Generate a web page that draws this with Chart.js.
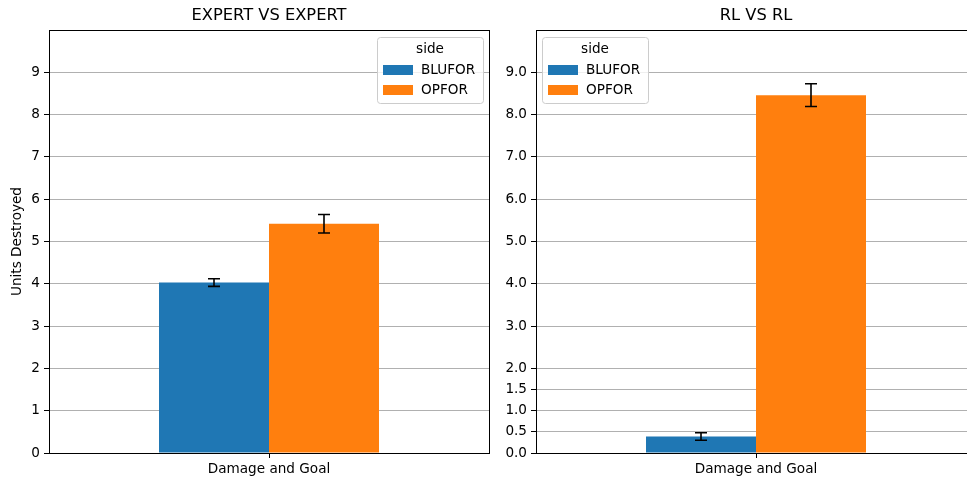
<!DOCTYPE html>
<html>
<head>
<meta charset="utf-8">
<script src="https://cdn.jsdelivr.net/npm/chart.js@4.4.1/dist/chart.umd.min.js"></script>
<style>
html,body{margin:0;padding:0;background:#fff;overflow:hidden;width:967px;height:479px;}
#wrap{position:relative;width:967px;height:479px;overflow:hidden;}
#c1{position:absolute;left:0;top:0;}
#c2{position:absolute;left:500px;top:0;}
</style>
</head>
<body>
<div id="wrap">
<canvas id="c1" width="500" height="479" style="width:500px;height:479px"></canvas>
<canvas id="c2" width="490" height="479" style="width:490px;height:479px"></canvas>
</div>
<script>
// ---- data ----
const categories = ['Damage and Goal'];
const seriesNames = ['BLUFOR', 'OPFOR'];
const legendTitle = 'side';
const panelTitles = ['EXPERT VS EXPERT', 'RL VS RL'];
const yAxisTitle = 'Units Destroyed';

const expertBlufor = [4.03];
const expertOpfor = [5.42];
const expertBluforErr = [0.09];
const expertOpforErr = [0.22];

const rlBlufor = [0.39];
const rlOpfor = [8.46];
const rlBluforErr = [0.09];
const rlOpforErr = [0.27];

const leftTicks = [0, 1, 2, 3, 4, 5, 6, 7, 8, 9];
const rightTicks = [0, 0.5, 1, 1.5, 2, 3, 4, 5, 6, 7, 8, 9];
const yMin = 0, yMax = 10;

const colors = ['#1f77b4', '#ff7f0e'];
const FONT = "'DejaVu Sans', sans-serif";
Chart.defaults.color = '#000';
Chart.defaults.font.family = FONT;

const errorBarPlugin = {
  id: 'errorBars',
  afterDatasetsDraw(chart) {
    const ctx = chart.ctx;
    const ys = chart.scales.y;
    ctx.save();
    ctx.strokeStyle = '#000';
    ctx.lineWidth = 1.6;
    chart.data.datasets.forEach((ds, di) => {
      const meta = chart.getDatasetMeta(di);
      meta.data.forEach((bar, i) => {
        const v = ds.data[i], e = ds.errors[i];
        const y1 = ys.getPixelForValue(v - e), y2 = ys.getPixelForValue(v + e);
        const x = bar.x, cw = 6;
        ctx.beginPath();
        ctx.moveTo(x, y1); ctx.lineTo(x, y2);
        ctx.moveTo(x - cw, y1); ctx.lineTo(x + cw, y1);
        ctx.moveTo(x - cw, y2); ctx.lineTo(x + cw, y2);
        ctx.stroke();
      });
    });
    ctx.restore();
  }
};

const framePlugin = {
  id: 'frameLegendTitle',
  afterDraw(chart) {
    const ctx = chart.ctx;
    const a = chart.chartArea;
    const o = chart.options.plugins.frameLegendTitle;
    ctx.save();
    // frame
    ctx.strokeStyle = '#000';
    ctx.lineWidth = 1;
    ctx.strokeRect(Math.round(a.left) + 0.5, Math.round(a.top) + 0.5, Math.round(a.right - a.left), Math.round(a.bottom - a.top));
    // title
    ctx.fillStyle = '#000';
    ctx.font = '16.3px ' + FONT;
    ctx.textAlign = 'center';
    ctx.textBaseline = 'middle';
    ctx.fillText(o.title, (a.left + a.right) / 2, 16);
    // legend
    const w = 106, h = 66;
    const lx = o.legendSide === 'right' ? a.right - 6 - w : a.left + 6;
    const ly = a.top + 7;
    ctx.fillStyle = 'rgba(255,255,255,0.8)';
    ctx.strokeStyle = '#cccccc';
    ctx.lineWidth = 1;
    ctx.beginPath();
    ctx.roundRect(lx + 0.5, ly + 0.5, w, h, 3);
    ctx.fill();
    ctx.stroke();
    ctx.fillStyle = '#000';
    ctx.font = '13.6px ' + FONT;
    ctx.textAlign = 'center';
    ctx.fillText(legendTitle, lx + w / 2, ly + 12);
    chart.data.datasets.forEach((ds, i) => {
      const ry = ly + 28 + i * 20;
      ctx.fillStyle = ds.backgroundColor;
      ctx.fillRect(lx + 6, ry, 30, 10);
      ctx.fillStyle = '#000';
      ctx.textAlign = 'left';
      ctx.fillText(ds.label, lx + 44, ry + 5);
    });
    ctx.restore();
  }
};

function makeChart(id, bl, op, blE, opE, ticks, fmt, title, legendSide, showYTitle, yWidth, padRight) {
  return new Chart(document.getElementById(id), {
    type: 'bar',
    data: {
      labels: categories,
      datasets: [
        { label: seriesNames[0], data: bl, errors: blE, backgroundColor: colors[0], borderWidth: 0 },
        { label: seriesNames[1], data: op, errors: opE, backgroundColor: colors[1], borderWidth: 0 }
      ]
    },
    options: {
      responsive: false,
      animation: false,
      events: [],
      layout: { padding: { top: 30, right: padRight, left: 0, bottom: 0 } },
      datasets: { bar: { categoryPercentage: 0.5, barPercentage: 1.0 } },
      plugins: {
        legend: { display: false },
        tooltip: { enabled: false },
        title: { display: false },
        frameLegendTitle: { title: title, legendSide: legendSide }
      },
      scales: {
        x: {
          offset: true,
          grid: { offset: false, drawOnChartArea: false, drawTicks: true, tickLength: 5, tickColor: '#000', tickWidth: 1 },
          border: { display: false },
          ticks: { font: { size: 13.6 }, padding: 3, color: '#000' },
          afterFit(s) { s.height = 26; }
        },
        y: {
          min: yMin, max: yMax,
          grid: { color: '#b0b0b0', lineWidth: 1, drawTicks: true, tickLength: 5, tickColor: '#000' },
          border: { display: false },
          afterBuildTicks(axis) { axis.ticks = ticks.map(v => ({ value: v })); },
          ticks: { font: { size: 13.6 }, padding: 4, color: '#000', callback: fmt },
          title: { display: showYTitle, text: yAxisTitle, font: { size: 13.6 }, color: '#000', padding: { top: 9, bottom: 0 } },
          afterFit(s) { s.width = yWidth; }
        }
      }
    },
    plugins: [errorBarPlugin, framePlugin]
  });
}

makeChart('c1', expertBlufor, expertOpfor, expertBluforErr, expertOpforErr, leftTicks,
  v => String(v), panelTitles[0], 'right', true, 49, 11);
makeChart('c2', rlBlufor, rlOpfor, rlBluforErr, rlOpforErr, rightTicks,
  v => Number(v).toFixed(1), panelTitles[1], 'left', false, 36, 14);
</script>
</body>
</html>
